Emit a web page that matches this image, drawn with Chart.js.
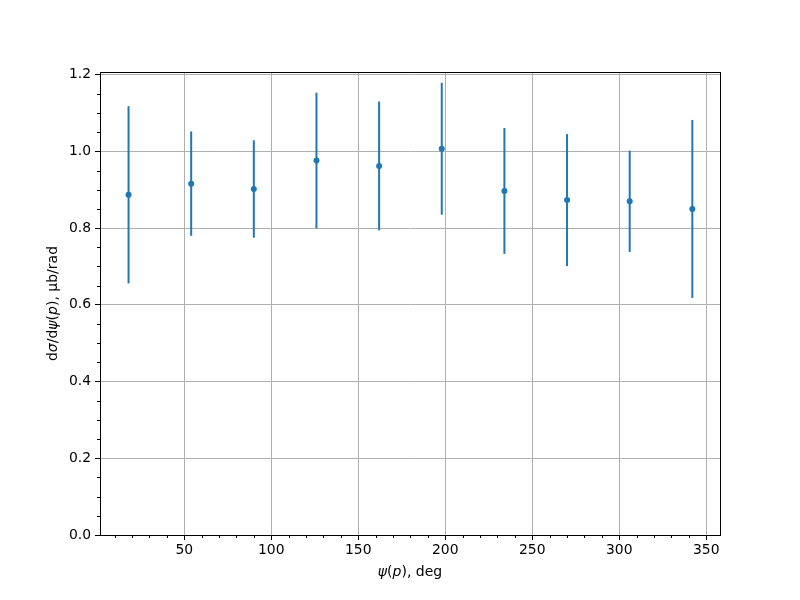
<!DOCTYPE html>
<html>
<head>
<meta charset="utf-8">
<script src="https://cdn.jsdelivr.net/npm/chart.js@4.4.1/dist/chart.umd.min.js"></script>
<style>
  html, body { margin: 0; padding: 0; background: #fff; }
  #wrap { width: 800px; height: 600px; }
</style>
</head>
<body>
<div id="wrap"><canvas id="chart" width="800" height="600"></canvas></div>
<script>
// angle bins (deg), cross section and its error
var psiValues = [18, 54, 90, 126, 162, 198, 234, 270, 306, 342];
var sigmaValues = [0.887, 0.916, 0.902, 0.976, 0.962, 1.007, 0.897, 0.873, 0.870, 0.850];
var sigmaErrors = [0.231, 0.136, 0.127, 0.177, 0.168, 0.172, 0.164, 0.172, 0.132, 0.232];

var xTicks = [50, 100, 150, 200, 250, 300, 350];
var yTicks = [0.0, 0.2, 0.4, 0.6, 0.8, 1.0, 1.2];
var xMinorStep = 10;
var yMinorStep = 0.05;

var blue = '#1f77b4';
var font = "'DejaVu Sans', sans-serif";

var points = psiValues.map(function (x, i) { return { x: x, y: sigmaValues[i] }; });

// error bars, drawn under the markers
var errorBars = {
  id: 'errorBars',
  beforeDatasetsDraw: function (chart) {
    var ctx = chart.ctx, xs = chart.scales.x, ys = chart.scales.y;
    ctx.save();
    ctx.strokeStyle = blue;
    ctx.lineWidth = 2;
    for (var i = 0; i < psiValues.length; i++) {
      var px = xs.getPixelForValue(psiValues[i]);
      ctx.beginPath();
      ctx.moveTo(px, ys.getPixelForValue(sigmaValues[i] - sigmaErrors[i]));
      ctx.lineTo(px, ys.getPixelForValue(sigmaValues[i] + sigmaErrors[i]));
      ctx.stroke();
    }
    ctx.restore();
  }
};

// frame, minor ticks and axis titles (matplotlib look)
var frame = {
  id: 'frame',
  afterDraw: function (chart) {
    var ctx = chart.ctx, a = chart.chartArea, xs = chart.scales.x, ys = chart.scales.y;
    ctx.save();
    ctx.strokeStyle = '#000';
    ctx.lineWidth = 1;
    ctx.beginPath();
    for (var v = Math.ceil(xs.min / xMinorStep) * xMinorStep; v <= xs.max; v += xMinorStep) {
      if (v % 50 === 0) continue;
      var px = Math.round(xs.getPixelForValue(v)) + 0.5;
      ctx.moveTo(px, a.bottom);
      ctx.lineTo(px, a.bottom + 3);
    }
    for (var k = 0; k * yMinorStep <= ys.max; k++) {
      if (k % 4 === 0) continue;
      var py = Math.round(ys.getPixelForValue(k * yMinorStep)) + 0.5;
      ctx.moveTo(a.left - 3, py);
      ctx.lineTo(a.left, py);
    }
    ctx.stroke();
    ctx.strokeRect(Math.round(a.left) + 0.5, Math.round(a.top) + 0.5,
      Math.round(a.right - a.left), Math.round(a.bottom - a.top));

    ctx.fillStyle = '#000';
    ctx.textBaseline = 'middle';
    // x title: psi(p), deg
    var it = 'italic 14px ' + font, rm = '14px ' + font;
    var parts = [['ψ', it], ['(', rm], ['p', it], ['), deg', rm]];
    drawParts(ctx, parts, (a.left + a.right) / 2, 572);
    // y title
    ctx.translate(53, (a.top + a.bottom) / 2);
    ctx.rotate(-Math.PI / 2);
    var yparts = [['d', rm], ['σ', it], ['/d', rm], ['ψ', it], ['(', rm], ['p', it], ['), μb/rad', rm]];
    drawParts(ctx, yparts, 0, 0);
    ctx.restore();
  }
};

function drawParts(ctx, parts, cx, cy) {
  var w = 0;
  parts.forEach(function (p) { ctx.font = p[1]; w += ctx.measureText(p[0]).width; });
  var x = cx - w / 2;
  ctx.textAlign = 'left';
  parts.forEach(function (p) {
    ctx.font = p[1];
    ctx.fillText(p[0], x, cy);
    x += ctx.measureText(p[0]).width;
  });
}

new Chart(document.getElementById('chart'), {
  type: 'scatter',
  data: {
    datasets: [{
      data: points,
      backgroundColor: blue,
      borderColor: blue,
      pointRadius: 3,
      pointHoverRadius: 3,
      borderWidth: 0
    }]
  },
  options: {
    responsive: false,
    animation: false,
    events: [],
    layout: { padding: { left: 60, right: 80, top: 72, bottom: 30 } },
    plugins: { legend: { display: false }, tooltip: { enabled: false } },
    scales: {
      x: {
        type: 'linear',
        min: 1.6,
        max: 357.9,
        afterBuildTicks: function (s) { s.ticks = xTicks.map(function (v) { return { value: v }; }); },
        afterFit: function (s) { s.height = 35; },
        grid: { color: '#b0b0b0', lineWidth: 1, tickColor: '#000', tickLength: 5, drawTicks: true },
        border: { display: true, color: '#000', width: 1 },
        ticks: { color: '#000', font: { family: font, size: 13.9 }, padding: 2, maxRotation: 0,
          callback: function (v) { return v; } }
      },
      y: {
        type: 'linear',
        min: 0,
        max: 1.207,
        afterBuildTicks: function (s) { s.ticks = yTicks.map(function (v) { return { value: v }; }); },
        afterFit: function (s) { s.width = 40; },
        grid: { color: '#b0b0b0', lineWidth: 1, tickColor: '#000', tickLength: 5, drawTicks: true },
        border: { display: true, color: '#000', width: 1 },
        ticks: { color: '#000', font: { family: font, size: 13.9 }, padding: 4,
          callback: function (v) { return v.toFixed(1); } }
      }
    }
  },
  plugins: [errorBars, frame]
});
</script>
</body>
</html>
